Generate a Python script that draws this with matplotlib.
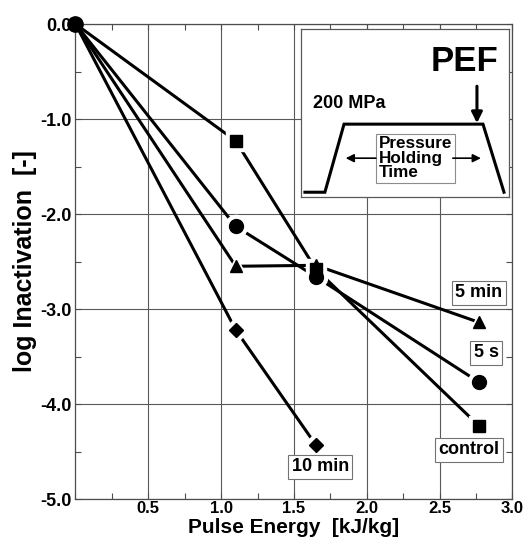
import numpy as np
import matplotlib
matplotlib.use("Agg")
import matplotlib.pyplot as plt
from matplotlib.ticker import MultipleLocator, FormatStrFormatter

# pulse energy [kJ/kg] and log inactivation for each holding time
energy_control = [0.0, 1.10, 1.65, 2.77]
inact_control = [0.0, -1.23, -2.58, -4.23]

energy_5s = [0.0, 1.10, 1.65, 2.77]
inact_5s = [0.0, -2.13, -2.66, -3.77]

energy_5min = [0.0, 1.10, 1.65, 2.77]
inact_5min = [0.0, -2.55, -2.54, -3.14]

energy_10min = [0.0, 1.10, 1.65]
inact_10min = [0.0, -3.22, -4.43]

x_ticks = [0.5, 1.0, 1.5, 2.0, 2.5, 3.0]
y_ticks = [0.0, -1.0, -2.0, -3.0, -4.0, -5.0]

plt.rcParams['font.family'] = ['Liberation Sans', 'DejaVu Sans']
plt.rcParams['font.weight'] = 'bold'

fig = plt.figure(figsize=(5.26, 5.42), dpi=100)
ax = fig.add_axes([0.1435, 0.0793, 0.8308, 0.8764])

series = [
    (energy_control, inact_control, 's', 8),
    (energy_5s, inact_5s, 'o', 10),
    (energy_5min, inact_5min, '^', 9),
    (energy_10min, inact_10min, 'D', 7),
]

# lines first, then white halos so lines stop short of the markers
for x, y, m, ms in series:
    ax.plot(x, y, '-', color='black', lw=2.2, zorder=2, solid_capstyle='butt')
for x, y, m, ms in series:
    ax.plot(x[1:], y[1:], ls='none', marker=m, ms=ms + 6, color='white', mec='white', zorder=3)
for x, y, m, ms in series:
    ax.plot(x[1:], y[1:], ls='none', marker=m, ms=ms, color='black', mec='black', zorder=4)

# common starting point
ax.plot(energy_5s[0], inact_5s[0], 'o', ms=11, color='black', zorder=5, clip_on=False)

# curve labels
box = dict(boxstyle='square,pad=0.2', fc='white', ec='0.45', lw=0.8)
ax.text(2.77, -2.83, '5 min', fontsize=13, ha='center', va='center', bbox=box, zorder=6)
ax.text(2.82, -3.46, '5 s', fontsize=13, ha='center', va='center', bbox=box, zorder=6)
ax.text(2.70, -4.48, 'control', fontsize=13, ha='center', va='center', bbox=box, zorder=6)
ax.text(1.68, -4.66, '10 min', fontsize=13, ha='center', va='center', bbox=box, zorder=6)

ax.set_xlim(0, 3.0)
ax.set_ylim(-5.0, 0.0)
ax.set_xticks(x_ticks)
ax.set_yticks(y_ticks)
ax.yaxis.set_major_formatter(FormatStrFormatter('%.1f'))
ax.xaxis.set_minor_locator(MultipleLocator(0.25))
ax.yaxis.set_minor_locator(MultipleLocator(0.5))
ax.tick_params(which='both', direction='in', top=True, right=True, colors='0.3',
               labelcolor='black', labelsize=13)
ax.tick_params(axis='x', labelsize=12, pad=1.5)
ax.tick_params(which='major', length=4, width=0.8)
ax.tick_params(which='minor', length=4, width=0.8)
ax.tick_params(axis='y', pad=3)
for lab in ax.get_xticklabels() + ax.get_yticklabels():
    lab.set_fontweight('bold')
ax.grid(True, which='major', color='0.35', lw=0.8)
ax.set_axisbelow(True)
for s in ax.spines.values():
    s.set_color('0.3')
    s.set_linewidth(0.9)

ax.set_xlabel('Pulse Energy  [kJ/kg]', fontsize=15, fontweight='bold')
ax.xaxis.set_label_coords(0.5, -0.041)
ax.set_ylabel('log Inactivation  [-]', fontsize=18, fontweight='bold', labelpad=2)

# inset schematic of the pressure profile
ins = ax.inset_axes([0.516, 0.636, 0.476, 0.353])
ins.set_xlim(0, 1)
ins.set_ylim(0, 1)
ins.set_xticks([])
ins.set_yticks([])
for s in ins.spines.values():
    s.set_color('0.35')
    s.set_linewidth(0.9)
ins.set_zorder(7)

prof_u = [0.019, 0.115, 0.207, 0.875, 0.976]
prof_v = [0.028, 0.028, 0.434, 0.434, 0.028]
ins.plot(prof_u, prof_v, color='black', lw=2.2, solid_joinstyle='miter')

ins.text(0.788, 0.81, 'PEF', fontsize=25, fontweight='bold', ha='center', va='center')
ins.text(0.058, 0.56, '200 MPa', fontsize=13, fontweight='bold', ha='left', va='center')
ins.annotate('', xy=(0.846, 0.44), xytext=(0.846, 0.66),
             arrowprops=dict(arrowstyle='-|>', lw=2.2, color='black', mutation_scale=16,
                             shrinkA=0, shrinkB=0))

ins.text(0.375, 0.231, 'Pressure\nHolding\nTime', fontsize=12.3, fontweight='bold',
         ha='left', va='center', multialignment='left', linespacing=0.95,
         bbox=dict(boxstyle='square,pad=0.15', fc='white', ec='0.55', lw=0.8))
ins.annotate('', xy=(0.215, 0.231), xytext=(0.36, 0.231),
             arrowprops=dict(arrowstyle='-|>', lw=1.2, color='black', mutation_scale=12,
                             shrinkA=0, shrinkB=0))
ins.annotate('', xy=(0.865, 0.231), xytext=(0.73, 0.231),
             arrowprops=dict(arrowstyle='-|>', lw=1.2, color='black', mutation_scale=12,
                             shrinkA=0, shrinkB=0))

fig.savefig('out.png', dpi=100)
